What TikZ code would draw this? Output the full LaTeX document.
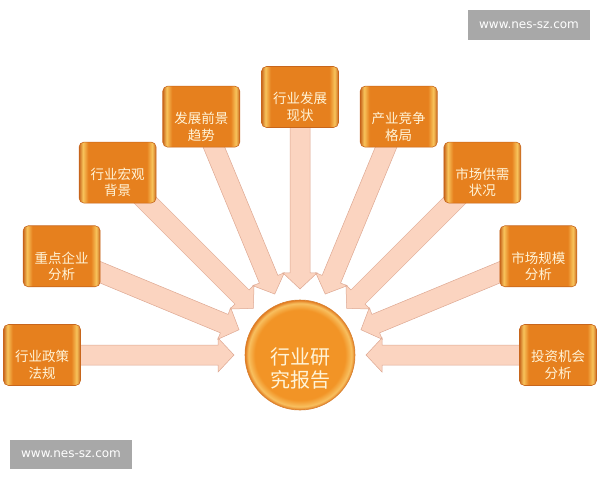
\documentclass[tikz,border=0pt]{standalone}
\usepackage{fontspec}
\setmainfont{Liberation Sans}
\newfontfamily\cjk{Noto Sans CJK SC}
\newfontfamily\webfont{DejaVu Sans}
\usetikzlibrary{calc,
                backgrounds}
\definecolor{boxmid}{RGB}{230,128,30}
\definecolor{boxedge}{RGB}{248,196,92}
\definecolor{boxline}{RGB}{200,102,28}
\definecolor{hubin}{RGB}{242,148,38}
\definecolor{hubrim}{RGB}{248,192,96}
\definecolor{hubout}{RGB}{226,120,28}
\definecolor{hubline}{RGB}{214,128,48}
\definecolor{arrowfill}{RGB}{251,212,192}
\definecolor{arrowline}{RGB}{222,168,146}
\definecolor{cream}{RGB}{255,244,216}
\definecolor{stampgray}{RGB}{168,168,168}
\pgfdeclarehorizontalshading{boxshade}{100bp}{color(0bp)=(boxline);
    color(25bp)=(boxline); color(27.5bp)=(boxedge); color(31bp)=(boxmid);
    color(69bp)=(boxmid); color(72.5bp)=(boxedge); color(75bp)=(boxline);
    color(100bp)=(boxline)}
\pgfdeclareradialshading{hubshade}{\pgfpoint{0bp}{0bp}}{color(0bp)=(hubin);
    color(20.5bp)=(hubin); color(23.5bp)=(hubrim); color(25bp)=(hubout);
    color(50bp)=(hubout)}
\tikzset{
        boxtext/.style={align=center, text=cream, inner sep=0pt,
                        font=\cjk\fontsize{13.5}{16.5}\selectfont},
        topic/.style={rectangle, rounded corners=5pt, draw=boxline,
                      line width=0.6pt, minimum width=77pt, minimum height=61pt,
                      shade, shading=boxshade,
                      label={[boxtext, yshift=-10pt]center:#1}},
        hub/.style={circle, minimum size=110pt, draw=hubline, line width=0.6pt,
                    shade, shading=hubshade,
                    label={[boxtext, yshift=-13pt,
                            font=\cjk\fontsize{20}{23}\selectfont]center:#1}},
        stamp/.style={fill=stampgray, text=white, minimum width=122pt,
                      minimum height=30pt, font=\webfont\fontsize{12}{14}\selectfont},
        fanarrow/.style={fill=arrowfill, draw=arrowline, line width=0.5pt,
            to path={
              ($(\tikztotarget)!66pt!(\tikztostart)$) coordinate (tip)
              ($(tip)!16pt!(\tikztostart)$) coordinate (neck)
              ($(\tikztostart)!10pt!90:(tip)$) -- ($(neck)!10pt!90:(tip)$)
              -- ($(neck)!17pt!90:(tip)$) -- (tip)
              -- ($(neck)!17pt!-90:(tip)$) -- ($(neck)!10pt!-90:(tip)$)
              -- ($(\tikztostart)!10pt!-90:(tip)$) -- cycle}},
 }

\begin{document}
\begin{tikzpicture}[x=1pt, y=1pt]
    \useasboundingbox (0,0) rectangle (600,480);

    \node[hub={行业研\\究报告}] (hub) at (300,125) {};

    \node[topic={行业政策\\法规}] (policy) at ($(hub)+(180:258pt)$) {};
    \node[topic={重点企业\\分析}] (firms) at ($(hub)+(157.5:258pt)$) {};
    \node[topic={行业宏观\\背景}] (macro) at ($(hub)+(135:258pt)$) {};
    \node[topic={发展前景\\趋势}] (outlook) at ($(hub)+(112.5:258pt)$) {};
    \node[topic={行业发展\\现状}] (status) at ($(hub)+(90:258pt)$) {};
    \node[topic={产业竞争\\格局}] (rivalry) at ($(hub)+(67.5:258pt)$) {};
    \node[topic={市场供需\\状况}] (supply) at ($(hub)+(45:258pt)$) {};
    \node[topic={市场规模\\分析}] (size) at ($(hub)+(22.5:258pt)$) {};
    \node[topic={投资机会\\分析}] (invest) at ($(hub)+(0:258pt)$) {};

    \node[stamp] (siteA) at (529,455) {www.nes-sz.com};
    \node[stamp, minimum height=29pt] (siteB) at (71,25.5) {www.nes-sz.com};

    \begin{scope}[on background layer]
    \fill[white] (0,0) rectangle (600,480);
    \draw[fanarrow] (policy) to (hub);
    \draw[fanarrow] (firms) to (hub);
    \draw[fanarrow] (macro) to (hub);
    \draw[fanarrow] (outlook) to (hub);
    \draw[fanarrow] (status) to (hub);
    \draw[fanarrow] (rivalry) to (hub);
    \draw[fanarrow] (supply) to (hub);
    \draw[fanarrow] (size) to (hub);
    \draw[fanarrow] (invest) to (hub);
    \end{scope}
\end{tikzpicture}
\end{document}
